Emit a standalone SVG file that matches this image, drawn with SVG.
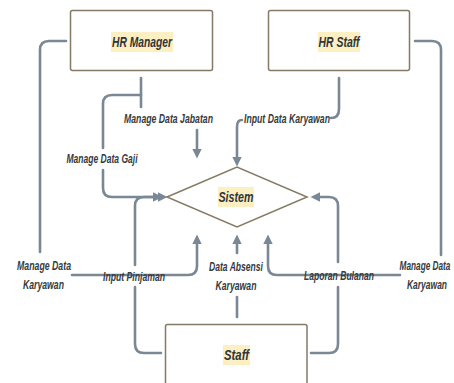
<svg xmlns="http://www.w3.org/2000/svg" width="454" height="383" viewBox="0 0 454 383">
<style>
.box{fill:#fff;stroke:#857a66;stroke-width:1.5}
.hl{fill:#fcefc2}
.nt{font-family:"Liberation Sans",Arial,sans-serif;font-weight:bold;font-style:italic;font-size:14.5px;fill:#2f3439;text-anchor:middle}
.lb{font-family:"Liberation Sans",Arial,sans-serif;font-weight:bold;font-style:italic;font-size:12.5px;fill:#353b41;text-anchor:middle}
.cn{fill:none;stroke:#7a8896;stroke-width:2.6;stroke-linecap:round;stroke-linejoin:round}
</style>
<defs>
<marker id="ah" markerUnits="userSpaceOnUse" markerWidth="10" markerHeight="10" refX="0" refY="4.5" orient="auto" viewBox="0 0 9 9">
<path d="M0,0.3 L8.5,4.5 L0,8.7 z" fill="#7a8896"/>
</marker>
</defs>
<rect width="454" height="383" fill="#fff"/>
<g id="connectors">
<path class="cn" d="M66,41 H49 Q40,41 40,50 V252"/>
<path class="cn" d="M72,275 H188 Q197,275 197,266 V244" marker-end="url(#ah)"/>
<path class="cn" d="M161,353 H144 Q135,353 135,344 V287"/>
<path class="cn" d="M135,265 V206 Q135,197 144,197 H153" marker-end="url(#ah)"/>
<path class="cn" d="M141,78 V107"/>
<path class="cn" d="M141,95 H112 Q103,95 103,104 V148"/>
<path class="cn" d="M103,170 V188 Q103,197 112,197 H158" marker-end="url(#ah)"/>
<path class="cn" d="M197,130 V149" marker-end="url(#ah)"/>
<path class="cn" d="M339,78 V109 Q339,118 331,118"/>
<path class="cn" d="M242,120 Q237,120 237,127 V157" marker-end="url(#ah)"/>
<path class="cn" d="M415,41 H432 Q441,41 441,50 V255"/>
<path class="cn" d="M400,275 H277 Q268,275 268,266 V244" marker-end="url(#ah)"/>
<path class="cn" d="M311,353 H329 Q338,353 338,344 V287"/>
<path class="cn" d="M338,262 V206 Q338,197 329,197 H320" marker-end="url(#ah)"/>
<path class="cn" d="M237,317 V297"/>
<path class="cn" d="M237,253 V244" marker-end="url(#ah)"/>
<text class="lb" x="168.5" y="122.5" textLength="89" lengthAdjust="spacingAndGlyphs">Manage Data Jabatan</text>
<text class="lb" x="102" y="162.5" textLength="71" lengthAdjust="spacingAndGlyphs">Manage Data Gaji</text>
<text class="lb" x="287" y="122.5" textLength="86" lengthAdjust="spacingAndGlyphs">Input Data Karyawan</text>
<text class="lb" x="44" y="269.5" textLength="54" lengthAdjust="spacingAndGlyphs">Manage Data</text>
<text class="lb" x="43.5" y="288.5" textLength="41" lengthAdjust="spacingAndGlyphs">Karyawan</text>
<text class="lb" x="134" y="280.5" textLength="62" lengthAdjust="spacingAndGlyphs">Input Pinjaman</text>
<text class="lb" x="236" y="270.5" textLength="54" lengthAdjust="spacingAndGlyphs">Data Absensi</text>
<text class="lb" x="236" y="289.5" textLength="41" lengthAdjust="spacingAndGlyphs">Karyawan</text>
<text class="lb" x="339" y="279.5" textLength="70" lengthAdjust="spacingAndGlyphs">Laporan Bulanan</text>
<text class="lb" transform="translate(425,269.5) scale(0.66,1)" x="0" y="0">Manage Data</text>
<text class="lb" transform="translate(427,288.5) scale(0.68,1)" x="0" y="0">Karyawan</text>
</g>
<g id="hr-manager">
<rect class="box" x="70.5" y="10.5" width="142" height="60" rx="2"/>
<rect class="hl" x="111" y="32" width="62" height="20"/>
<text class="nt" x="142" y="47" textLength="60" lengthAdjust="spacingAndGlyphs">HR Manager</text>
</g>
<g id="hr-staff">
<rect class="box" x="268.5" y="10.5" width="141" height="60" rx="2"/>
<rect class="hl" x="318" y="32" width="42" height="20"/>
<text class="nt" x="339" y="47" textLength="41" lengthAdjust="spacingAndGlyphs">HR Staff</text>
</g>
<g id="sistem">
<polygon class="box" points="167,197 237,167 307,197 237,227"/>
<rect class="hl" x="218" y="187" width="36" height="20"/>
<text class="nt" x="236" y="202" textLength="35" lengthAdjust="spacingAndGlyphs">Sistem</text>
</g>
<g id="staff">
<rect class="box" x="165.5" y="324.5" width="141.5" height="70" rx="2"/>
<rect class="hl" x="223" y="345" width="27" height="20"/>
<text class="nt" x="236.5" y="360" textLength="25" lengthAdjust="spacingAndGlyphs">Staff</text>
</g>
</svg>
